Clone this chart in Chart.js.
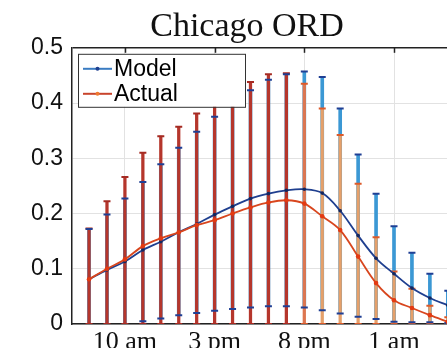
<!DOCTYPE html>
<html lang="en">
<head>
<meta charset="UTF-8">
<title>Chicago ORD</title>
<script src="https://cdn.jsdelivr.net/npm/chart.js"></script>
<style>
    html, body { margin: 0; padding: 0; overflow: hidden; background: #fff; }
</style>
</head>
<body>
<canvas id="myChart" width="494" height="348"></canvas>
<script>
    // hour of day, 8 am ... 4 am next day (24 = midnight)
    const hours = [8, 9, 10, 11, 12, 13, 14, 15, 16, 17, 18, 19, 20, 21, 22, 23, 24, 25, 26, 27, 28];
    const tickHours = [10, 15, 20, 25];
    const tickLabels = ['10 am', '3 pm', '8 pm', '1 am'];

    const modelMean = [0.081, 0.098, 0.113, 0.134, 0.149, 0.166, 0.181, 0.198, 0.213, 0.227, 0.236,
        0.242, 0.244, 0.237, 0.205, 0.160, 0.119, 0.091, 0.065, 0.047, 0.034];
    const modelLow = [-0.010, -0.006, -0.002, 0.005, 0.010, 0.016, 0.020, 0.024, 0.027, 0.030, 0.032,
        0.032, 0.030, 0.025, 0.019, 0.013, 0.009, 0.004, 0.003, 0.003, 0.002];
    const modelHigh = [0.172, 0.198, 0.227, 0.257, 0.289, 0.319, 0.348, 0.375, 0.400, 0.423, 0.442,
        0.452, 0.457, 0.447, 0.390, 0.307, 0.236, 0.177, 0.129, 0.091, 0.060];

    const actualMean = [0.081, 0.100, 0.117, 0.141, 0.155, 0.166, 0.179, 0.188, 0.200, 0.211, 0.220,
        0.224, 0.218, 0.195, 0.170, 0.122, 0.074, 0.043, 0.029, 0.016, 0.004];
    const actualLow = [0, 0, 0, 0, 0, 0, 0, 0, 0, 0, 0,
        0, 0, 0, 0, 0, 0, 0, 0, 0, 0];
    const actualHigh = [0.173, 0.222, 0.266, 0.310, 0.340, 0.357, 0.381, 0.400, 0.420, 0.438, 0.452,
        0.454, 0.435, 0.390, 0.342, 0.254, 0.157, 0.095, 0.064, 0.033, 0.012];

    function pts(arr) {
        return hours.map((h, i) => ({ x: h, y: arr[i] }));
    }
    function range(lo, hi) {
        return hours.map((h, i) => ({ x: h, y: [lo[i], hi[i]] }));
    }
    // actual bars go from dark red (day) to orange (night)
    function actualBarColor(ctx) {
        const i = ctx.dataIndex;
        if (i < 12) return '#b5362c';
        if (i === 12) return '#dd7650';
        return '#e5a06a';
    }
    function actualCapColor(ctx) {
        return ctx.dataIndex < 12 ? '#a52a22' : '#dc5a2a';
    }

    const legendBox = {
        id: 'legendBox',
        afterDatasetsDraw(chart) {
            const c = chart.ctx;
            const a = chart.chartArea;
            const x = a.left + 6, y = a.top + 6, w = 167, h = 53;
            c.save();
            c.fillStyle = '#fff';
            c.fillRect(x, y, w, h);
            c.strokeStyle = '#333';
            c.lineWidth = 1;
            c.strokeRect(x + 0.5, y + 0.5, w, h);
            const items = [
                { label: chart.data.datasets[1].label, line: '#3a7cc2', dot: '#1f3f8f' },
                { label: chart.data.datasets[0].label, line: '#c8442c', dot: '#f07a30' }
            ];
            c.font = '23px "Liberation Sans", Arial, sans-serif';
            c.textBaseline = 'middle';
            items.forEach((it, k) => {
                const cy = y + 15 + k * 25;
                c.strokeStyle = it.line;
                c.lineWidth = 2;
                c.beginPath();
                c.moveTo(x + 5, cy);
                c.lineTo(x + 34, cy);
                c.stroke();
                c.fillStyle = it.dot;
                c.beginPath();
                c.arc(x + 19.5, cy, 2, 0, Math.PI * 2);
                c.fill();
                c.fillStyle = '#000';
                c.fillText(it.label, x + 36, cy + 1);
            });
            c.restore();
        },
        afterDraw(chart) {
            // small inward tick marks on the top border
            const c = chart.ctx;
            const a = chart.chartArea;
            const xs = chart.scales.x;
            c.save();
            c.strokeStyle = '#222';
            c.lineWidth = 1.5;
            tickHours.forEach(h => {
                const px = Math.round(xs.getPixelForValue(h)) + 0.5;
                c.beginPath();
                c.moveTo(px, a.top);
                c.lineTo(px, a.top + 5);
                c.stroke();
            });
            c.restore();
        }
    };

    new Chart(document.getElementById('myChart'), {
        type: 'bar',
        data: {
            datasets: [
                {
                    type: 'line', label: 'Actual', data: pts(actualMean), order: 0,
                    borderColor: '#d8461e', borderWidth: 1.8, tension: 0.35,
                    pointRadius: 2.3, pointBackgroundColor: '#e33a12', pointBorderWidth: 0
                },
                {
                    type: 'line', label: 'Model', data: pts(modelMean), order: 1,
                    borderColor: '#1f3f8f', borderWidth: 1.8, tension: 0.35,
                    pointRadius: 1.8, pointBackgroundColor: '#14275e', pointBorderWidth: 0
                },
                {
                    type: 'line', label: 'model high', data: pts(modelHigh), order: 2, showLine: false,
                    pointStyle: 'line', pointRadius: 3.5, pointBorderWidth: 2, pointBorderColor: '#1f3f94'
                },
                {
                    type: 'line', label: 'model low', data: pts(modelLow), order: 2, showLine: false,
                    pointStyle: 'line', pointRadius: 3.5, pointBorderWidth: 2, pointBorderColor: '#1f3f94'
                },
                {
                    type: 'line', label: 'actual high', data: pts(actualHigh), order: 3, showLine: false,
                    pointStyle: 'line', pointRadius: 3.5, pointBorderWidth: 2, pointBorderColor: actualCapColor
                },
                {
                    type: 'line', label: 'actual low', data: pts(actualLow), order: 3, showLine: false,
                    pointStyle: 'line', pointRadius: 3.5, pointBorderWidth: 2, pointBorderColor: actualCapColor
                },
                {
                    label: 'actual range', data: range(actualLow, actualHigh), order: 4,
                    backgroundColor: actualBarColor, barThickness: 2.6, grouped: false
                },
                {
                    label: 'model range', data: range(modelLow, modelHigh), order: 5,
                    backgroundColor: '#3b98d4', barThickness: 3, grouped: false
                }
            ]
        },
        options: {
            responsive: false,
            animation: false,
            layout: { padding: 0 },
            plugins: {
                legend: { display: false },
                tooltip: { enabled: false },
                title: {
                    display: true,
                    text: 'Chicago ORD',
                    color: '#111',
                    font: { family: '"Liberation Serif", "Times New Roman", serif', size: 34, weight: 'normal', lineHeight: 1.2 },
                    padding: { top: 7, bottom: 0 }
                }
            },
            scales: {
                x: {
                    type: 'linear',
                    min: 7.05,
                    max: 30.24,
                    offset: false,
                    afterFit: (s) => { s.height = 24; },
                    afterBuildTicks: (s) => { s.ticks = tickHours.map(v => ({ value: v })); },
                    ticks: {
                        padding: 3,
                        color: '#111',
                        font: { family: '"Liberation Serif", "Times New Roman", serif', size: 26 },
                        callback: (v) => tickLabels[tickHours.indexOf(v)]
                    },
                    grid: { color: '#e2e2e2', drawTicks: false, offset: false },
                    border: { color: '#222', width: 1.5 }
                },
                y: {
                    min: 0,
                    max: 0.5,
                    afterFit: (s) => { s.width = 72; },
                    ticks: {
                        stepSize: 0.1,
                        padding: 9,
                        color: '#111',
                        font: { family: '"Liberation Sans", Arial, sans-serif', size: 23 }
                    },
                    grid: {
                        drawTicks: false,
                        color: (ctx) => (ctx.tick && ctx.tick.value === 0.5 ? '#222' : '#e2e2e2'),
                        lineWidth: (ctx) => (ctx.tick && ctx.tick.value === 0.5 ? 1.5 : 1)
                    },
                    border: { color: '#222', width: 1.5 }
                }
            }
        },
        plugins: [legendBox]
    });
</script>
</body>
</html>
